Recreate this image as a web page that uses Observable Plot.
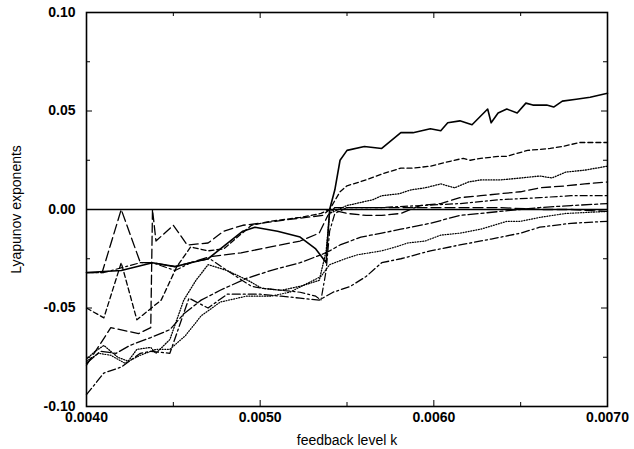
<!DOCTYPE html>
<html><head><meta charset="utf-8">
<script src="https://cdn.jsdelivr.net/npm/d3@7"></script>
<script src="https://cdn.jsdelivr.net/npm/@observablehq/plot@0.6"></script>
<style>
body{margin:0;background:#fff}
svg g[aria-label$="tick label"] text{font-weight:bold}
</style>
</head><body><div id="chart"></div>
<script>
// axis ticks
const xTicks = [0.004, 0.005, 0.006, 0.007];
const xMinor = [0.0045, 0.0055, 0.0065];
const yTicks = [-0.1, -0.05, 0, 0.05, 0.1];
const yMinor = [-0.075, -0.025, 0.025, 0.075];

// series 1: solid
const k1 = [0.00400,0.00420,0.00438,0.00451,0.00460,0.00470,0.00480,0.00490,0.00497,0.00510,0.00523,0.00532,0.00538,0.00539,0.00540,0.00543,0.00546,0.00550,0.00560,0.00570,0.00581,0.00588,0.00598,0.00604,0.00608,0.00615,0.00622,0.00631,0.00633,0.00637,0.00642,0.00648,0.00653,0.00657,0.00665,0.00669,0.00674,0.00682,0.00690,0.00700];
const l1 = [-0.032,-0.031,-0.027,-0.029,-0.027,-0.025,-0.018,-0.011,-0.009,-0.011,-0.014,-0.020,-0.027,-0.013,0.000,0.010,0.025,0.030,0.032,0.031,0.039,0.039,0.041,0.040,0.044,0.045,0.043,0.051,0.044,0.049,0.051,0.049,0.054,0.053,0.053,0.052,0.055,0.056,0.057,0.059];

// series 2: short dash
const k2 = [0.00400,0.00410,0.00420,0.00429,0.00443,0.00452,0.00460,0.00470,0.00479,0.00495,0.00506,0.00523,0.00535,0.00540,0.00546,0.00550,0.00561,0.00570,0.00581,0.00588,0.00598,0.00607,0.00617,0.00621,0.00627,0.00638,0.00642,0.00654,0.00667,0.00674,0.00684,0.00700];
const l2 = [-0.050,-0.055,-0.027,-0.056,-0.046,-0.029,-0.019,-0.021,-0.020,-0.008,-0.006,-0.004,-0.002,0.000,0.009,0.012,0.015,0.018,0.021,0.021,0.022,0.024,0.026,0.025,0.026,0.027,0.027,0.030,0.031,0.032,0.034,0.034];

// series 3: dotted (upper)
const k3 = [0.00400,0.00405,0.00410,0.00418,0.00424,0.00429,0.00437,0.00440,0.00448,0.00456,0.00463,0.00470,0.00481,0.00493,0.00501,0.00512,0.00523,0.00534,0.00538,0.00540,0.00550,0.00565,0.00570,0.00580,0.00587,0.00595,0.00604,0.00612,0.00620,0.00627,0.00638,0.00650,0.00661,0.00668,0.00676,0.00687,0.00700];
const l3 = [-0.076,-0.072,-0.069,-0.075,-0.077,-0.071,-0.070,-0.073,-0.066,-0.046,-0.036,-0.028,-0.031,-0.036,-0.040,-0.041,-0.039,-0.036,-0.021,-0.002,0.002,0.005,0.007,0.008,0.010,0.011,0.013,0.011,0.014,0.015,0.015,0.016,0.017,0.016,0.019,0.020,0.022];

// series 4: long dash with spike
const k4 = [0.00400,0.00414,0.00430,0.00437,0.00438,0.00440,0.00450,0.00458,0.00470,0.00479,0.00490,0.00500,0.00517,0.00536,0.00540,0.00550,0.00561,0.00570,0.00581,0.00592,0.00604,0.00615,0.00627,0.00638,0.00650,0.00661,0.00676,0.00687,0.00700];
const l4 = [-0.079,-0.060,-0.063,-0.060,0.000,-0.016,-0.008,-0.018,-0.017,-0.011,-0.008,-0.007,-0.005,-0.003,0.000,-0.002,-0.003,-0.003,-0.002,0.002,0.003,0.006,0.007,0.008,0.009,0.011,0.012,0.013,0.014];

// series 5: dash-dot (flat start)
const k5 = [0.00400,0.00410,0.00431,0.00438,0.00451,0.00460,0.00471,0.00481,0.00495,0.00501,0.00512,0.00523,0.00532,0.00535,0.00538,0.00540,0.00543,0.00550,0.00570,0.00592,0.00615,0.00638,0.00661,0.00679,0.00700];
const l5 = [-0.032,-0.032,-0.027,-0.027,-0.031,-0.027,-0.025,-0.031,-0.039,-0.040,-0.041,-0.042,-0.044,-0.046,-0.031,-0.011,-0.002,0.001,0.001,0.002,0.003,0.005,0.006,0.007,0.007];

// series 6: long dash (spike at 0.0042)
const k6 = [0.00400,0.00409,0.00420,0.00431,0.00438,0.00451,0.00460,0.00471,0.00489,0.00506,0.00523,0.00534,0.00539,0.00543,0.00550,0.00570,0.00592,0.00615,0.00638,0.00661,0.00679,0.00700];
const l6 = [-0.032,-0.032,0.000,-0.027,-0.027,-0.029,-0.027,-0.024,-0.022,-0.019,-0.016,-0.012,-0.003,0.001,0.001,0.001,0.001,0.001,0.001,0.000,0.000,-0.001];

// series 7: long dash-dot
const k7 = [0.00400,0.00408,0.00417,0.00425,0.00437,0.00448,0.00456,0.00466,0.00477,0.00492,0.00506,0.00523,0.00535,0.00540,0.00546,0.00558,0.00570,0.00581,0.00598,0.00615,0.00638,0.00661,0.00679,0.00700];
const l7 = [-0.078,-0.072,-0.073,-0.069,-0.065,-0.061,-0.053,-0.046,-0.041,-0.035,-0.031,-0.027,-0.023,-0.021,-0.018,-0.014,-0.012,-0.010,-0.007,-0.003,-0.001,0.001,0.002,0.003];

// series 8: dotted (lower)
const k8 = [0.00400,0.00407,0.00414,0.00422,0.00431,0.00440,0.00448,0.00457,0.00466,0.00477,0.00492,0.00506,0.00517,0.00526,0.00535,0.00540,0.00549,0.00556,0.00570,0.00578,0.00585,0.00595,0.00604,0.00615,0.00627,0.00642,0.00650,0.00661,0.00676,0.00700];
const l8 = [-0.077,-0.073,-0.074,-0.078,-0.074,-0.071,-0.071,-0.064,-0.054,-0.047,-0.044,-0.044,-0.042,-0.038,-0.034,-0.028,-0.025,-0.023,-0.021,-0.019,-0.017,-0.016,-0.013,-0.012,-0.010,-0.006,-0.006,-0.004,-0.002,-0.001];

// series 9: dash-dot (lowest start)
const k9 = [0.00400,0.00410,0.00420,0.00431,0.00437,0.00448,0.00459,0.00470,0.00481,0.00500,0.00512,0.00523,0.00534,0.00542,0.00552,0.00561,0.00570,0.00581,0.00598,0.00615,0.00633,0.00650,0.00661,0.00679,0.00700];
const l9 = [-0.094,-0.083,-0.080,-0.073,-0.072,-0.073,-0.045,-0.050,-0.043,-0.043,-0.044,-0.045,-0.046,-0.042,-0.039,-0.034,-0.027,-0.025,-0.021,-0.018,-0.015,-0.012,-0.009,-0.007,-0.006];

const styles = [
  {k: k1, l: l1, dash: null, w: 1.6},
  {k: k2, l: l2, dash: "5,3", w: 1.3},
  {k: k3, l: l3, dash: "1,1.6", w: 1.3},
  {k: k4, l: l4, dash: "9,4", w: 1.3},
  {k: k5, l: l5, dash: "7,3,2,3", w: 1.2},
  {k: k6, l: l6, dash: "10,4", w: 1.3},
  {k: k7, l: l7, dash: "10,3,3,3", w: 1.3},
  {k: k8, l: l8, dash: "1,1.6", w: 1.2},
  {k: k9, l: l9, dash: "8,3,2,3", w: 1.3}
];

const W = 634, H = 449, mL = 86, mR = 27, mT = 12, mB = 43;
const iw = W - mL - mR, ih = H - mT - mB;
const fmtX = d3.format(".4f");
const fmtY = d => d3.format(".2f")(d).replace("−", "-");

const lineMarks = styles.map(s => {
  const rows = s.k.map((k, i) => ({k, lam: s.l[i]}));
  return Plot.line(rows, {x: "k", y: "lam", stroke: "black", strokeWidth: s.w, strokeDasharray: s.dash, strokeLinejoin: "round"});
});

const chart = Plot.plot({
  width: W, height: H,
  marginLeft: mL, marginRight: mR, marginTop: mT, marginBottom: mB,
  style: {fontFamily: "'Liberation Sans', Arial, sans-serif", fontSize: "14px", background: "white", color: "black"},
  x: {domain: [0.004, 0.007], ticks: xTicks, tickFormat: fmtX, tickSize: 0, tickPadding: 6,
      label: "feedback level k", labelAnchor: "center", labelOffset: 38, labelArrow: "none"},
  y: {domain: [-0.1, 0.1], ticks: yTicks, tickFormat: fmtY, tickSize: 0, tickPadding: 11,
      label: "Lyapunov exponents", labelAnchor: "center", labelOffset: 75, labelArrow: "none"},
  marks: [
    Plot.ruleY([0], {stroke: "black", strokeWidth: 1.5}),
    ...lineMarks,
    // inward ticks, bottom and top
    Plot.tickX(xTicks, {x: d => d, insetTop: ih - 6, stroke: "black"}),
    Plot.tickX(xTicks, {x: d => d, insetBottom: ih - 6, stroke: "black"}),
    Plot.tickX(xMinor, {x: d => d, insetTop: ih - 4, stroke: "black"}),
    Plot.tickX(xMinor, {x: d => d, insetBottom: ih - 4, stroke: "black"}),
    // inward ticks, left and right
    Plot.tickY(yTicks, {y: d => d, insetRight: iw - 6, stroke: "black"}),
    Plot.tickY(yTicks, {y: d => d, insetLeft: iw - 6, stroke: "black"}),
    Plot.tickY(yMinor, {y: d => d, insetRight: iw - 4, stroke: "black"}),
    Plot.tickY(yMinor, {y: d => d, insetLeft: iw - 4, stroke: "black"}),
    Plot.frame({stroke: "black", strokeWidth: 1.6})
  ]
});
document.getElementById("chart").appendChild(chart);
</script>
</body></html>
